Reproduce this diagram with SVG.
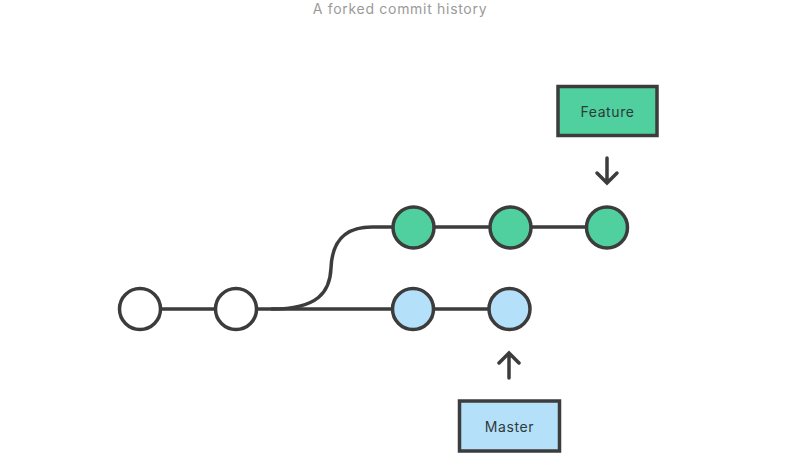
<svg xmlns="http://www.w3.org/2000/svg" width="800" height="458" viewBox="0 0 800 458">
<style>
.ln{fill:none;stroke:#3c3c3c;stroke-width:3.5;stroke-linecap:round}
.c{stroke:#3c3c3c;stroke-width:3.5}
.w{fill:#ffffff}
.g{fill:#4fd09e}
.b{fill:#b5e0fa}
.lbl{font-family:"Inter","Liberation Sans",sans-serif;font-size:14px;fill:#2e3a3a;text-anchor:middle;letter-spacing:0.6px}
.title{font-family:"Inter","Liberation Sans",sans-serif;font-size:14px;fill:#9a9a9a;text-anchor:middle;letter-spacing:0.7px}
</style>
<rect width="800" height="458" fill="#ffffff"/>
<text class="title" x="400" y="14">A forked commit history</text>
<g id="connectors">
<path class="ln" d="M140 309 H509"/>
<path class="ln" d="M272 309 C318 309 330 292 331 268 C332 244 342 227 372 227 H607"/>
<path class="ln" d="M607 158 V183 M597 173 L607 183 L617 173"/>
<path class="ln" d="M509 378 V353 M499 363 L509 353 L519 363"/>
</g>
<g id="c1"><circle class="c w" cx="140" cy="309" r="20.5"/></g>
<g id="c2"><circle class="c w" cx="236" cy="309" r="20.5"/></g>
<g id="m1"><circle class="c b" cx="413" cy="309" r="20.5"/></g>
<g id="m2"><circle class="c b" cx="509.5" cy="309" r="20.5"/></g>
<g id="f1"><circle class="c g" cx="413.5" cy="227.5" r="20.5"/></g>
<g id="f2"><circle class="c g" cx="510.5" cy="227.5" r="20.5"/></g>
<g id="f3"><circle class="c g" cx="607" cy="227.5" r="20.5"/></g>
<g id="feature"><rect class="c g" x="558" y="86.5" width="99" height="49"/><text class="lbl" x="607.5" y="116.5">Feature</text></g>
<g id="master"><rect class="c b" x="459.5" y="401" width="100" height="50"/><text class="lbl" x="509.5" y="431.5">Master</text></g>
</svg>
